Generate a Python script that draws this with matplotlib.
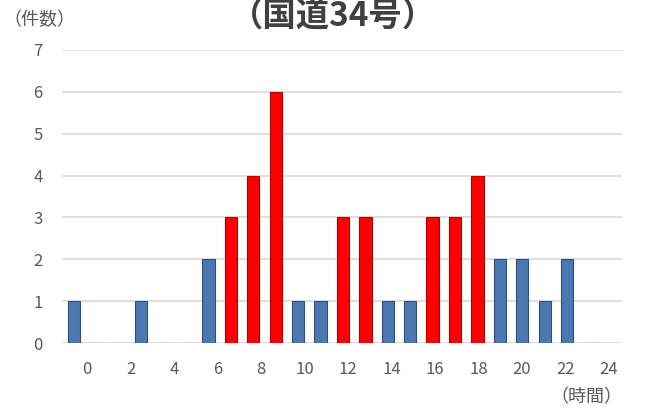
import matplotlib
matplotlib.use("Agg")
import matplotlib.pyplot as plt

plt.rcParams['font.family'] = ['Noto Sans CJK JP', 'DejaVu Sans']

# data
hours = list(range(24))
counts = [1, 0, 0, 1, 0, 0, 2, 3, 4, 6, 1, 1, 3, 3, 1, 1, 3, 3, 4, 2, 2, 1, 2, 0]
peak = [False, False, False, False, False, False, False, True, True, True, False, False,
        True, True, False, False, True, True, True, False, False, False, False, False]
xticks = [0, 2, 4, 6, 8, 10, 12, 14, 16, 18, 20, 22, 24]
yticks = [0, 1, 2, 3, 4, 5, 6, 7]

title = "（国道34号）"
ylabel = "（件数）"
xlabel = "（時間）"

blue = "#4a78b0"
blue_edge = "#2b4f7e"
red = "#ff0000"
red_edge = "#b00000"
txt = "#595959"

fig = plt.figure(figsize=(6.5, 4.16), dpi=100)
ax = fig.add_axes([62 / 650, 1 - 343 / 416, 560 / 650, 293 / 416])

colors = [red if p else blue for p in peak]
edges = [red_edge if p else blue_edge for p in peak]
ax.bar(hours, counts, width=0.55, color=colors, edgecolor=edges, linewidth=0.8, zorder=3)

ax.set_xlim(-0.535, 24.45)
ax.set_ylim(0, 7)
ax.set_yticks(yticks)
ax.grid(axis='y', color="#d9d9d9", linewidth=1.2, zorder=0)
ax.set_xticks([])
ax.tick_params(axis='y', length=0, labelsize=12, colors=txt, pad=14)
for s in ax.spines.values():
    s.set_visible(False)

# hour axis for the labels
ax2 = ax.twiny()
ax2.set_xlim(-1.149, 24.6)
ax2.set_xticks(xticks)
ax2.xaxis.set_ticks_position('bottom')
ax2.xaxis.set_label_position('bottom')
ax2.tick_params(axis='x', length=0, labelsize=12, colors=txt, pad=13)
for s in ax2.spines.values():
    s.set_visible(False)

fig.text(333 / 650, 1 - 1 / 416, title, fontsize=24, fontweight='bold', color="#404040",
         ha='center', va='top')
fig.text(3 / 650, 1 - 20 / 416, ylabel, fontsize=13, color=txt, ha='left', va='center')
fig.text(622 / 650, 1 - 397 / 416, xlabel, fontsize=13, color=txt, ha='right', va='center')

fig.savefig("out.png", dpi=100)
